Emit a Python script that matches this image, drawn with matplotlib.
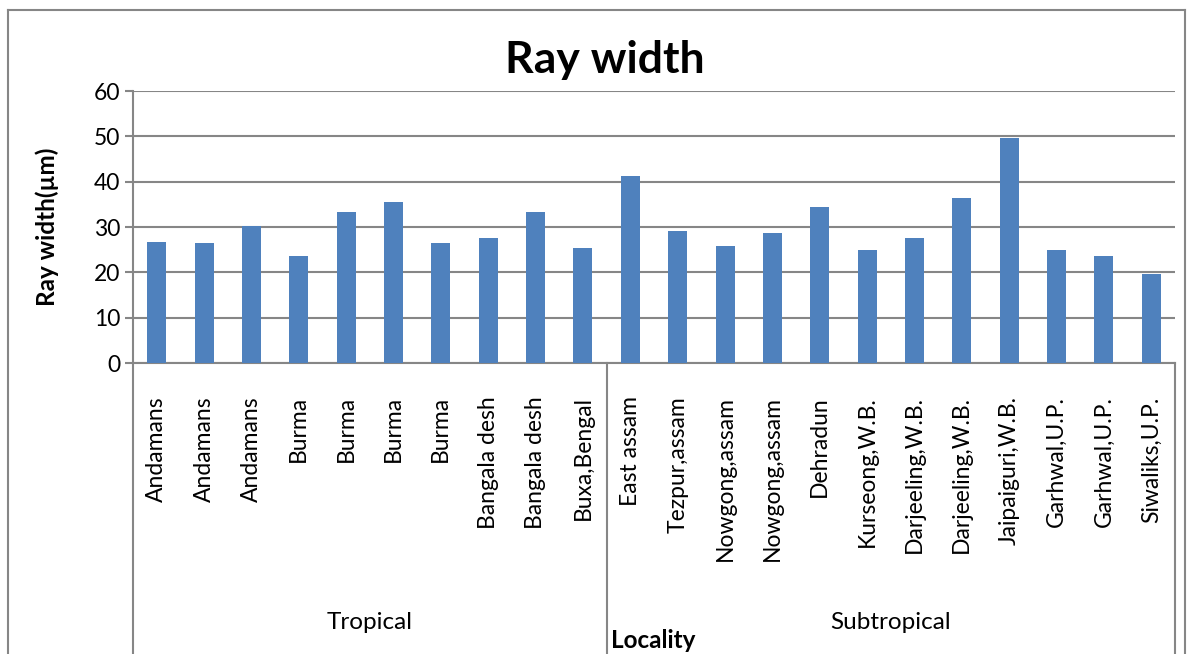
import matplotlib
matplotlib.use("Agg")
import matplotlib.pyplot as plt
import matplotlib.transforms as transforms
from matplotlib.lines import Line2D

plt.rcParams.update({
    "font.family": ["Lato", "DejaVu Sans"],
    "font.size": 16,
})

# Data
localities = [
    "Andamans", "Andamans", "Andamans", "Burma", "Burma", "Burma", "Burma",
    "Bangala desh", "Bangala desh", "Buxa,Bengal",
    "East assam", "Tezpur,assam", "Nowgong,assam", "Nowgong,assam", "Dehradun",
    "Kurseong,W.B.", "Darjeeling,W.B.", "Darjeeling,W.B.", "Jaipaiguri,W.B.",
    "Garhwal,U.P.", "Garhwal,U.P.", "Siwaliks,U.P.",
]
ray_width = [
    26.7, 26.5, 30.2, 23.5, 33.2, 35.6, 26.5, 27.6, 33.2, 25.4,
    41.3, 29.1, 25.7, 28.6, 34.5, 24.9, 27.6, 36.5, 49.7, 24.9, 23.7, 19.7,
]
groups = ["Tropical", "Subtropical"]
group_sizes = [10, 12]

BAR = "#4F81BD"
GRID = "#868686"

fig = plt.figure(figsize=(11.9, 6.54), dpi=100)
ax = fig.add_axes([133 / 1190, 291 / 654, 1042 / 1190, 272 / 654])

x = list(range(len(localities)))
ax.bar(x, ray_width, width=0.4, color=BAR, zorder=3)

ax.set_xlim(-0.5, len(localities) - 0.5)
ax.set_ylim(0, 60)
ax.set_yticks(range(0, 61, 10))
ax.grid(axis="y", color=GRID, linewidth=1.5, zorder=0)
ax.set_axisbelow(True)

for side in ["top", "right"]:
    ax.spines[side].set_visible(False)
ax.spines["left"].set_color(GRID)
ax.spines["bottom"].set_color(GRID)
ax.spines["left"].set_linewidth(1.5)
ax.spines["bottom"].set_linewidth(1.5)

ax.tick_params(axis="y", length=6, width=1.5, color=GRID, labelsize=16.5, pad=3)
ax.set_xticks(x)
ax.set_xticklabels(localities, rotation=90, fontsize=16.5, va="top")
ax.tick_params(axis="x", length=0, pad=24)

fig.text(47 / 1190, 1 - 227 / 654, "Ray width(µm)", rotation=90, ha="center",
         va="center", fontsize=17.5, fontweight="bold")

fig.text(605 / 1190, 1 - 60 / 654, "Ray width", ha="center", va="center",
         fontsize=32, fontweight="bold")

# Group separators and labels under the axis
trans = transforms.blended_transform_factory(ax.transData, ax.transAxes)
edges = [-0.5]
for n in group_sizes:
    edges.append(edges[-1] + n)
for e in edges:
    ax.add_line(Line2D([e, e], [0, -1.2], transform=trans, color=GRID,
                       linewidth=1.5, clip_on=False))
for g, a, b in zip(groups, edges[:-1], edges[1:]):
    ax.text((a + b) / 2, -0.955, g, transform=trans, ha="center", va="center",
            fontsize=17.5)

ax.text(edges[1] + 0.1, -1.02, "Locality", transform=trans, ha="left",
        va="center", fontsize=17.5, fontweight="bold")

# outer chart frame
fig.add_artist(Line2D([8 / 1190, 8 / 1190], [0, 1 - 10 / 654], color=GRID, linewidth=1.5))
fig.add_artist(Line2D([1185 / 1190, 1185 / 1190], [0, 1 - 10 / 654], color=GRID, linewidth=1.5))
fig.add_artist(Line2D([8 / 1190, 1185 / 1190], [1 - 10 / 654, 1 - 10 / 654], color=GRID, linewidth=1.5))

fig.savefig("out.png", dpi=100, facecolor="white")
plt.close(fig)
